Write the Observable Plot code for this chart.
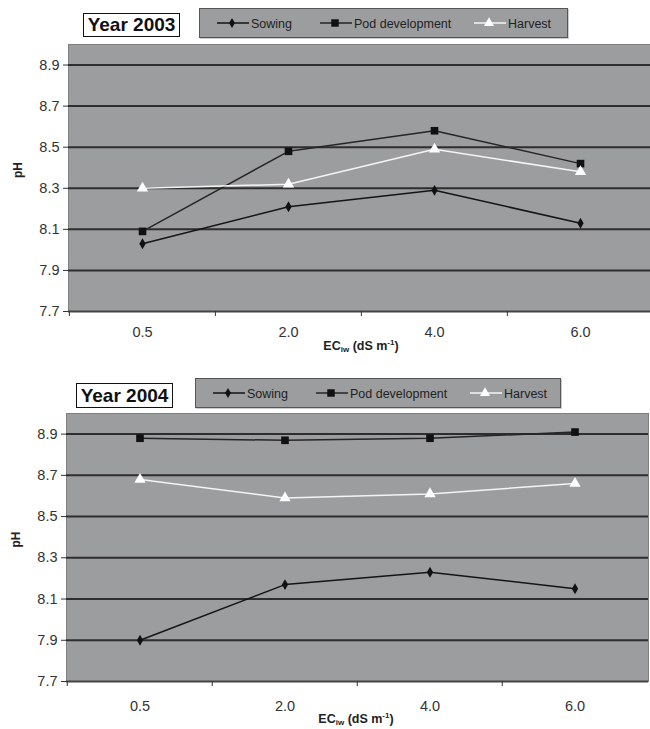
<!DOCTYPE html>
<html>
<head>
<meta charset="utf-8">
<script src="https://cdn.jsdelivr.net/npm/d3@7"></script>
<script src="https://cdn.jsdelivr.net/npm/@observablehq/plot@0.6"></script>
<style>
  html, body { margin: 0; padding: 0; background: #fff; }
  #root { position: relative; width: 650px; height: 729px; overflow: hidden; font-family: "Liberation Sans", Arial, sans-serif; color: #333; }
  .chart { position: absolute; left: 0; }
  .yearbox { position: absolute; box-sizing: border-box; border: 1px solid #111; background: #fff; font-weight: bold; font-size: 19px; color: #111; text-align: center; font-family: "Liberation Sans", Arial, sans-serif; }
  .legend { position: absolute; box-sizing: border-box; border: 1px solid #555; background: #9c9d9f; box-shadow: 1px 1px 0 #ccc; }
  .xtitle { position: absolute; font-weight: bold; font-size: 12.5px; line-height: 14px; color: #222; transform: translateX(-50%); white-space: nowrap; font-family: "Liberation Sans", Arial, sans-serif; }
  .xtitle sub { font-size: 8px; vertical-align: -2px; line-height: 0; }
  .xtitle sup { font-size: 8px; vertical-align: 5px; line-height: 0; }
</style>
</head>
<body>
<div id="root"></div>
<script>
const cats = ["0.5", "2.0", "4.0", "6.0"];
const seriesNames = ["Sowing", "Pod development", "Harvest"];
const sowing2003 = [8.03, 8.21, 8.29, 8.13];
const pod2003 = [8.09, 8.48, 8.58, 8.42];
const harvest2003 = [8.30, 8.32, 8.49, 8.38];
const sowing2004 = [7.90, 8.17, 8.23, 8.15];
const pod2004 = [8.88, 8.87, 8.88, 8.91];
const harvest2004 = [8.68, 8.59, 8.61, 8.66];
const yTicks = [7.7, 7.9, 8.1, 8.3, 8.5, 8.7, 8.9];
const yDomain = [7.7, 9.0];
const years = ["Year 2003", "Year 2004"];

const FONT = '"Liberation Sans", Arial, sans-serif';

function rows(vals, name) { return cats.map((c, i) => ({c, v: vals[i], s: name})); }

function makeChart(cfg) {
  const {sow, pod, har, height, marginLeft, marginRight, marginBottom, tickPad} = cfg;
  const bw = (650 - marginLeft - marginRight) / cats.length;
  const S = rows(sow, seriesNames[0]), P = rows(pod, seriesNames[1]), H = rows(har, seriesNames[2]);
  return Plot.plot({
    width: 650, height, marginTop: 44, marginBottom, marginLeft, marginRight,
    x: {type: "band", domain: cats, padding: 0},
    y: {domain: yDomain},
    style: {fontFamily: FONT, fontSize: "14.5px", color: "#333", background: "transparent", overflow: "visible"},
    marks: [
      Plot.frame({fill: "#9c9d9f", stroke: "#808080"}),
      Plot.ruleY(yTicks.slice(1), {stroke: "#2e2e2e", strokeWidth: 2}),
      Plot.ruleY([yTicks[0]], {stroke: "#444", strokeWidth: 2}),
      Plot.axisY({ticks: yTicks, tickFormat: d => d.toFixed(1), tickSize: 5, tickPadding: 4, label: null}),
      Plot.axisX({tickSize: 0, tickPadding: tickPad, label: null}),
      Plot.axisX({tickSize: 5, tickFormat: () => "", dx: -bw / 2, label: null}),
      Plot.line(S, {x: "c", y: "v", stroke: "#151515", strokeWidth: 1.5}),
      Plot.line(P, {x: "c", y: "v", stroke: "#262626", strokeWidth: 1.5}),
      Plot.line(H, {x: "c", y: "v", stroke: "#f4f4f4", strokeWidth: 1.5}),
      Plot.dot(S, {x: "c", y: "v", symbol: "diamond", r: 3.3, fill: "#111", stroke: "none"}),
      Plot.dot(P, {x: "c", y: "v", symbol: "square", r: 4.3, fill: "#111", stroke: "none"}),
      Plot.dot(H, {x: "c", y: "v", symbol: "triangle", r: 4.2, fill: "#fff", stroke: "none"}),
      Plot.text(["pH"], {frameAnchor: "left", rotate: -90, dx: -50, fontWeight: "bold", fontSize: 12, fill: "#222"})
    ]
  });
}

function legendSvg(w, h) {
  const svg = d3.create("svg").attr("width", w).attr("height", h).style("position", "absolute").style("left", 0).style("top", 0);
  const items = [
    {name: seriesNames[0], x0: 17, color: "#151515", sym: d3.symbolDiamond, size: 30, fill: "#111"},
    {name: seriesNames[1], x0: 120, color: "#262626", sym: d3.symbolSquare, size: 56, fill: "#111"},
    {name: seriesNames[2], x0: 274, color: "#f4f4f4", sym: d3.symbolTriangle, size: 44, fill: "#fff"}
  ];
  const cy = h / 2;
  for (const it of items) {
    svg.append("line").attr("x1", it.x0).attr("x2", it.x0 + 32).attr("y1", cy).attr("y2", cy).attr("stroke", it.color).attr("stroke-width", 1.5);
    svg.append("path").attr("d", d3.symbol(it.sym, it.size)()).attr("transform", `translate(${it.x0 + 15},${cy})`).attr("fill", it.fill);
    svg.append("text").attr("x", it.x0 + 34).attr("y", cy).attr("dy", "0.36em").attr("font-size", 12.5).attr("fill", "#222").attr("font-family", FONT).text(it.name);
  }
  return svg.node();
}

const root = document.getElementById("root");

const configs = [
  {top: 0, sow: sowing2003, pod: pod2003, har: harvest2003, height: 365, marginLeft: 68, marginRight: -3, marginBottom: 54, tickPad: 15,
   year: {left: 83, top: 13, w: 97, h: 24}, legend: {left: 199, top: 8, w: 369, h: 30}, xt: {x: 361, y: 339}},
  {top: 369, sow: sowing2004, pod: pod2004, har: harvest2004, height: 360, marginLeft: 66, marginRight: 2, marginBottom: 48, tickPad: 19,
   year: {left: 76, top: 383, w: 97, h: 25}, legend: {left: 195, top: 378, w: 366, h: 30}, xt: {x: 356, y: 712}}
];

configs.forEach((cfg, k) => {
  const wrap = document.createElement("div");
  wrap.className = "chart";
  wrap.style.top = cfg.top + "px";
  wrap.appendChild(makeChart(cfg));
  root.appendChild(wrap);

  const yb = document.createElement("div");
  yb.className = "yearbox";
  Object.assign(yb.style, {left: cfg.year.left + "px", top: cfg.year.top + "px", width: cfg.year.w + "px", height: cfg.year.h + "px", lineHeight: (cfg.year.h - 2) + "px"});
  yb.textContent = years[k];
  root.appendChild(yb);

  const lg = document.createElement("div");
  lg.className = "legend";
  Object.assign(lg.style, {left: cfg.legend.left + "px", top: cfg.legend.top + "px", width: cfg.legend.w + "px", height: cfg.legend.h + "px"});
  lg.appendChild(legendSvg(cfg.legend.w - 2, cfg.legend.h - 2));
  root.appendChild(lg);

  const xt = document.createElement("div");
  xt.className = "xtitle";
  Object.assign(xt.style, {left: cfg.xt.x + "px", top: cfg.xt.y + "px"});
  xt.innerHTML = "EC<sub>iw</sub> (dS m<sup>-1</sup>)";
  root.appendChild(xt);
});
</script>
</body>
</html>
